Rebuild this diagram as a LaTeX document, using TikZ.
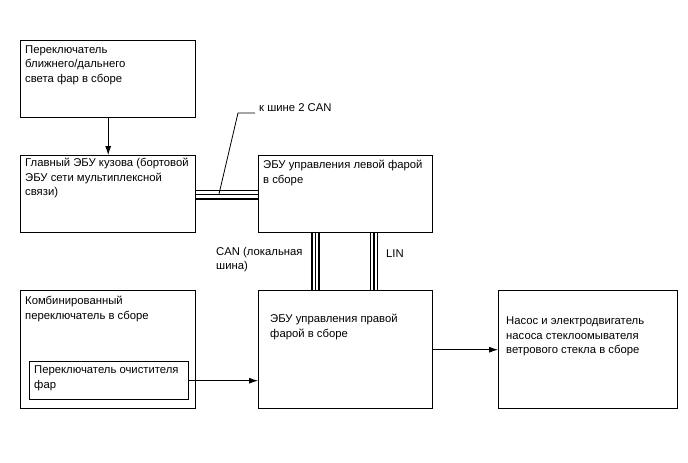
\documentclass[tikz,border=0pt]{standalone}
\usepackage{fontspec}
\setmainfont{Liberation Sans}
\usetikzlibrary{arrows.meta,positioning,calc}

\begin{document}
\begin{tikzpicture}[
    x=1pt,
    y=-1pt,
    box/.style={draw, line width=1.4pt, anchor=north west, inner sep=0pt},
    txt/.style={anchor=north west, inner sep=0pt, align=left, font=\fontsize{11.3}{14.5}\selectfont},
    sig/.style={-{Latex[length=9pt,width=6pt]}, line width=0.8pt},
    busw/.style={line width=2pt},
    busn/.style={line width=1pt}
  ]
    \useasboundingbox (0,0) rectangle (688,463);
    % blocks
    \node[box, minimum width=175, minimum height=77] (sw) at (20,40) {};
    \node[box, minimum width=175, minimum height=77] (body) at (20,155) {};
    \node[box, minimum width=174, minimum height=77] (left) at (258,155) {};
    \node[box, minimum width=175, minimum height=118] (comb) at (20,290) {};
    \node[box, minimum width=159, minimum height=38] (clean) at (29,361) {};
    \node[box, minimum width=174, minimum height=118] (right) at (258,290) {};
    \node[box, minimum width=179, minimum height=118] (pump) at (498,290) {};
    % texts
    \node[txt] (swtxt) at (25,45.5) {Переключатель\\ближнего/дальнего\\света фар в сборе};
    \node[txt] (bodytxt) at (25,158) {Главный ЭБУ кузова (бортовой\\ЭБУ сети мультиплексной\\связи)};
    \node[txt] (lefttxt) at (263,160) {ЭБУ управления левой фарой\\в сборе};
    \node[txt] (combtxt) at (25,296) {Комбинированный\\переключатель в сборе};
    \node[txt] (cleantxt) at (34,366) {Переключатель очистителя\\фар};
    \node[txt] (righttxt) at (270,314) {ЭБУ управления правой\\фарой в сборе};
    \node[txt] (pumptxt) at (506,317) {Насос и электродвигатель\\насоса стеклоомывателя\\ветрового стекла в сборе};
    \node[txt, anchor=west, inner xsep=4pt] (canbus) at (255,108) {к шине 2 CAN};
    \node[txt] (canloc) at (216,247) {CAN (локальная\\шина)};
    \node[txt, anchor=west] (lin) at (386,254) {LIN};
    % signals
    \draw[sig] (sw.south) -- (body.north);
    \draw[sig] (clean.east) -- (right.west |- clean.east);
    \draw[sig] (right.east) -- (pump.west);
    % CAN 2 bus
    \draw[busn] ($(body.east)+(0,-3.5)$) -- ($(left.west)+(0,-3.5)$);
    \draw[busn] ($(body.east)+(0,0.5)$) -- ($(left.west)+(0,0.5)$);
    \draw[busw] ($(body.east)+(0,4.5)$) -- ($(left.west)+(0,4.5)$);
    \coordinate (tap) at (219,194);
    \coordinate (bend) at (238,113);
    \draw[line width=0.8pt] (tap) -- (bend) -- (bend -| canbus.west);
    % local CAN and LIN
    \draw[busw] ($(left.south)+(-34,0)$) -- ($(right.north)+(-34,0)$);
    \draw[busn] ($(left.south)+(-30.5,0)$) -- ($(right.north)+(-30.5,0)$);
    \draw[busw] ($(left.south)+(-27,0)$) -- ($(right.north)+(-27,0)$);
    \draw[busn] ($(left.south)+(25,0)$) -- ($(right.north)+(25,0)$);
    \draw[busw] ($(left.south)+(28.5,0)$) -- ($(right.north)+(28.5,0)$);
    \draw[busn] ($(left.south)+(32,0)$) -- ($(right.north)+(32,0)$);
  \end{tikzpicture}
\end{document}
